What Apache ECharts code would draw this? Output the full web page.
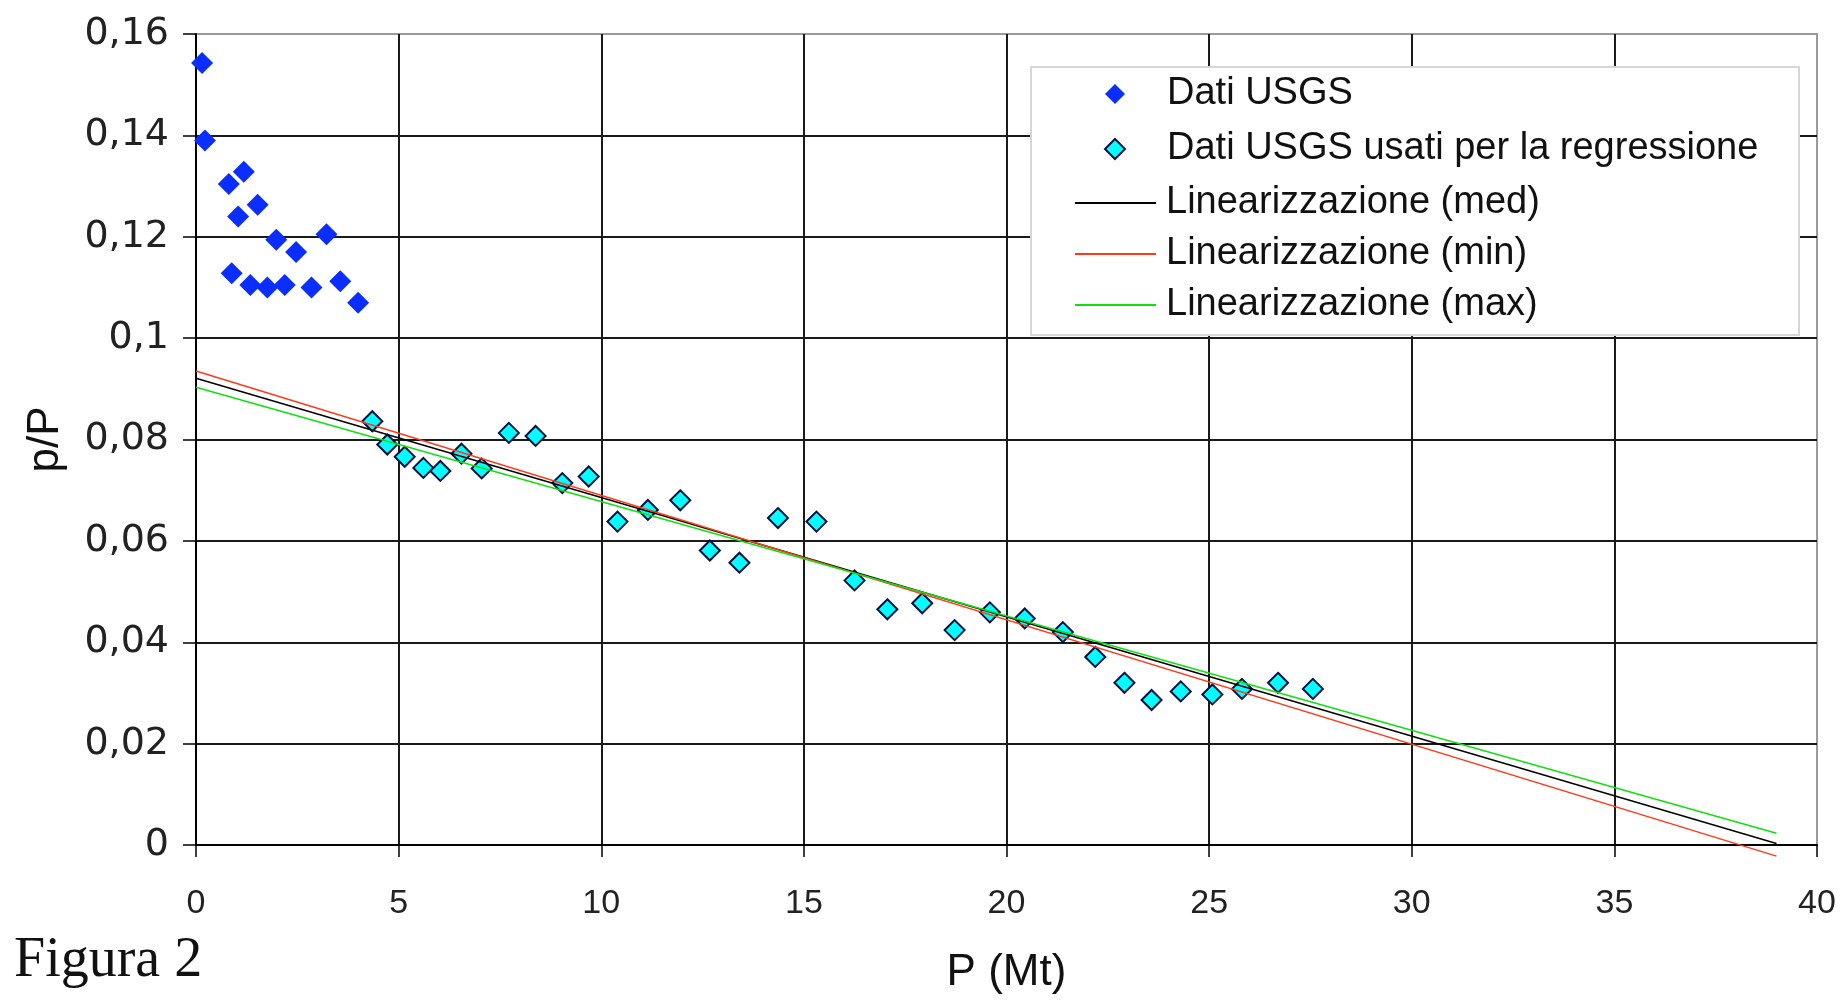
<!DOCTYPE html>
<html>
<head>
<meta charset="utf-8">
<title>Figura 2</title>
<script src="https://cdn.jsdelivr.net/npm/echarts@6/dist/echarts.min.js"></script>
<style>
  html, body { margin: 0; padding: 0; background: #fff; }
  #chart { width: 1841px; height: 1000px; }
</style>
</head>
<body>
<div id="chart"></div>
<script>
// USGS data (all points)
const usgsX = [0.15, 0.22, 1.18, 0.81, 1.52, 1.04, 3.22, 1.98, 2.47, 0.88, 1.34, 1.76, 2.19, 2.85, 3.56, 4.00];
const usgsY = [0.1543, 0.1390, 0.1328, 0.1304, 0.1263, 0.1240, 0.1205, 0.1194, 0.1170, 0.1128, 0.1105, 0.1100, 0.1105, 0.1100, 0.1112, 0.1070];

// USGS data used for the regression
const regrX = [4.35, 4.72, 5.15, 5.61, 6.03, 6.55, 7.05, 7.72, 8.38, 9.04, 9.69, 10.40, 11.15, 11.95, 12.68, 13.41, 14.36,
               15.31, 16.25, 17.06, 17.92, 18.72, 19.59, 20.45, 21.39, 22.19, 22.91, 23.58, 24.30, 25.08, 25.81, 26.70, 27.56];
const regrY = [0.0836, 0.0790, 0.0766, 0.0744, 0.0738, 0.0772, 0.0743, 0.0813, 0.0807, 0.0714, 0.0727, 0.0638, 0.0661, 0.0680, 0.0581, 0.0557, 0.0645,
               0.0638, 0.0522, 0.0465, 0.0477, 0.0424, 0.0459, 0.0447, 0.0420, 0.0371, 0.0320, 0.0286, 0.0303, 0.0297, 0.0308, 0.0320, 0.0308];

// Linear fits (end points)
const lineX = [0, 39];
const medY = [0.0921, 0.0003];
const minY = [0.0935, -0.0022];
const maxY = [0.0903, 0.0023];

// Axis ticks
const xTicks = [0, 5, 10, 15, 20, 25, 30, 35, 40];
const yTicks = [0, 0.02, 0.04, 0.06, 0.08, 0.1, 0.12, 0.14, 0.16];

const names = {
  usgs: 'Dati USGS',
  regr: 'Dati USGS usati per la regressione',
  med: 'Linearizzazione (med)',
  min: 'Linearizzazione (min)',
  max: 'Linearizzazione (max)'
};

const zip = (xs, ys) => xs.map((x, i) => [x, ys[i]]);

const chart = echarts.init(document.getElementById('chart'), null, { renderer: 'canvas' });

const gridColor = '#1a1a1a';
const legendFont = { fontFamily: 'Liberation Sans', fontSize: 38, color: '#111' };

chart.setOption({
  animation: false,
  backgroundColor: '#fff',
  grid: {
    left: 196, right: 24, top: 34, bottom: 155,
    show: true, backgroundColor: '#fff', borderColor: '#9a9a9a', borderWidth: 2
  },
  xAxis: {
    type: 'value',
    min: xTicks[0], max: xTicks[xTicks.length - 1],
    interval: xTicks[1] - xTicks[0],
    name: 'P (Mt)',
    nameLocation: 'middle',
    nameGap: 106,
    nameTextStyle: { fontFamily: 'Liberation Sans', fontSize: 44, color: '#111' },
    axisLine: { show: true, onZero: false, lineStyle: { color: '#000', width: 2 } },
    axisTick: { show: true, inside: false, length: 12, lineStyle: { color: '#000', width: 1.5 } },
    axisLabel: { margin: 42, fontFamily: 'Liberation Sans', fontSize: 34, color: '#222' },
    splitLine: { show: true, showMaxLine: false, lineStyle: { color: gridColor, width: 2 } }
  },
  yAxis: {
    type: 'value',
    min: yTicks[0], max: yTicks[yTicks.length - 1],
    interval: 0.02,
    name: 'p/P',
    nameLocation: 'middle',
    nameRotate: 90,
    nameGap: 128,
    nameTextStyle: { fontFamily: 'Liberation Sans', fontSize: 44, color: '#111' },
    axisLine: { show: true, onZero: false, lineStyle: { color: '#000', width: 2 } },
    axisTick: { show: true, inside: false, length: 13, lineStyle: { color: '#000', width: 1.5 } },
    axisLabel: {
      margin: 27, fontFamily: 'DejaVu Sans', fontSize: 38, color: '#222',
      formatter: v => String(+v.toFixed(2)).replace('.', ',')
    },
    splitLine: { show: true, showMaxLine: false, lineStyle: { color: gridColor, width: 2 } }
  },
  legend: [
    {
      data: [names.usgs, names.regr],
      orient: 'vertical',
      left: 1104, top: 75,
      padding: 0,
      itemWidth: 20, itemHeight: 20, itemGap: 17,
      selectedMode: false,
      textStyle: Object.assign({ padding: [0, 0, 0, 37] }, legendFont)
    },
    {
      data: [
        { name: names.med, icon: 'rect' },
        { name: names.min, icon: 'rect' },
        { name: names.max, icon: 'rect' }
      ],
      orient: 'vertical',
      left: 1075, top: 184,
      padding: 0,
      itemWidth: 81, itemHeight: 2, itemGap: 13,
      selectedMode: false,
      textStyle: Object.assign({ padding: [0, 0, 0, 5] }, legendFont)
    }
  ],
  graphic: [
    {
      type: 'rect', z: 3,
      shape: { x: 1031, y: 67, width: 768, height: 268 },
      style: { fill: '#fff', stroke: '#d6d6d6', lineWidth: 2 }
    },
    {
      type: 'text', z: 5,
      left: 14, top: 933,
      style: { text: 'Figura 2', font: '56px "Liberation Serif"', fill: '#111' }
    }
  ],
  series: [
    {
      name: names.usgs,
      type: 'scatter',
      symbol: 'diamond',
      symbolSize: 22,
      itemStyle: { color: '#0a2eff', opacity: 1 },
      data: zip(usgsX, usgsY),
      z: 2
    },
    {
      name: names.regr,
      type: 'scatter',
      symbol: 'diamond',
      symbolSize: 20,
      itemStyle: { color: '#00ffff', borderColor: '#0a1040', borderWidth: 2, opacity: 1 },
      data: zip(regrX, regrY),
      z: 2
    },
    {
      name: names.med,
      type: 'line',
      symbol: 'none',
      clip: false,
      lineStyle: { color: '#000', width: 1.5 },
      itemStyle: { color: '#000' },
      data: zip(lineX, medY),
      z: 3
    },
    {
      name: names.min,
      type: 'line',
      symbol: 'none',
      clip: false,
      lineStyle: { color: '#ff3a1a', width: 1.5 },
      itemStyle: { color: '#ff3a1a' },
      data: zip(lineX, minY),
      z: 3
    },
    {
      name: names.max,
      type: 'line',
      symbol: 'none',
      clip: false,
      lineStyle: { color: '#10e010', width: 1.5 },
      itemStyle: { color: '#10e010' },
      data: zip(lineX, maxY),
      z: 3
    }
  ]
});
</script>
</body>
</html>
